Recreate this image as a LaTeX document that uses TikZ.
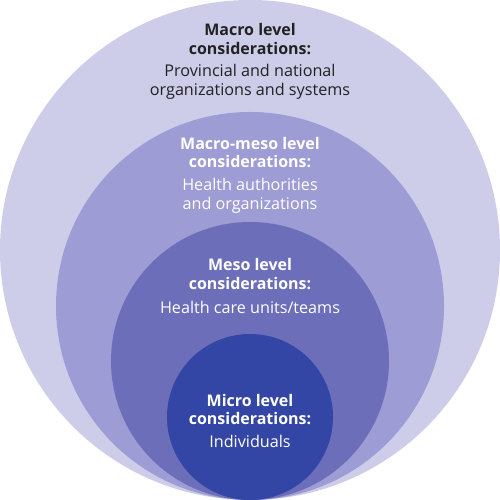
\documentclass[tikz,border=0pt]{standalone}
\usepackage{fontspec}
\setmainfont{Open Sans}
\definecolor{ringa}{RGB}{205,205,234}
\definecolor{ringb}{RGB}{157,156,212}
\definecolor{ringc}{RGB}{108,110,185}
\definecolor{ringd}{RGB}{52,70,165}
\definecolor{txtdark}{RGB}{34,34,34}
\begin{document}
\begin{tikzpicture}[
  head/.style={align=center,inner sep=0pt,font=\fontsize{9.1}{10.3}\selectfont\bfseries},
  body/.style={align=center,inner sep=0pt,font=\fontsize{9.2}{10.8}\selectfont}]
  \useasboundingbox (0,0) rectangle (10,10);
  % 外圆
  \fill[ringa] (5,5) circle (5);
  % 第二圆
  \fill[ringb] (5,3.88) circle (3.88);
  % 第三圆
  \fill[ringc] (5,2.78) circle (2.78);
  % 内圆
  \fill[ringd] (5,1.66) circle (1.66);
  % 宏观
  \node[head,text=txtdark] (macrohead) at (5,9.22) {Macro level\\considerations:};
  \node[body,text=txtdark] (macrobody) at (5,8.37) {Provincial and national\\organizations and systems};
  % 宏观-中观
  \node[head,text=white] (mmhead) at (5,6.95) {Macro-meso level\\considerations:};
  \node[body,text=white] (mmbody) at (5,6.09) {Health authorities\\and organizations};
  % 中观
  \node[head,text=white] (mesohead) at (5,4.52) {Meso level\\considerations:};
  \node[body,text=white] (mesobody) at (5,3.86) {Health care units/teams};
  % 微观
  \node[head,text=white] (microhead) at (5,1.81) {Micro level\\considerations:};
  \node[body,text=white] (microbody) at (5,1.18) {Individuals};
\end{tikzpicture}
\end{document}
